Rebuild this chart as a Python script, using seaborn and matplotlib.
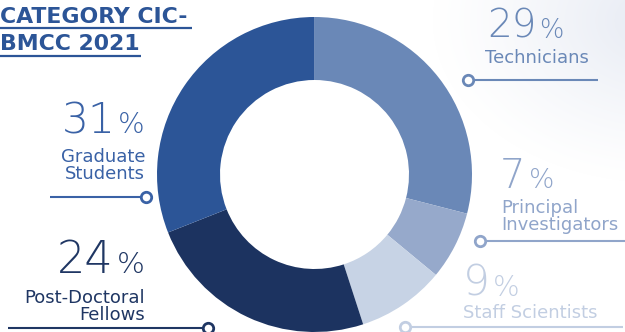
import numpy as np
import matplotlib
matplotlib.use("Agg")
import matplotlib.pyplot as plt
import seaborn as sns

# Staff composition shares (percent), clockwise from 12 o'clock
categories = ["Technicians", "Principal Investigators", "Staff Scientists",
              "Post-Doctoral Fellows", "Graduate Students"]
shares = [29, 7, 9, 24, 31]
label_lines = ["Technicians", "Principal\nInvestigators", "Staff Scientists",
               "Post-Doctoral\nFellows", "Graduate\nStudents"]
colors = ["#6a88b7", "#96a9cb", "#c7d3e5", "#1c3360", "#2c5597"]
text_colors = ["#6a88b7", "#90a5ca", "#c2cee2", "#1f3663", "#3a62a6"]
title_lines = ["CATEGORY CIC-", "BMCC 2021"]

sns.set_theme(style="white")
plt.rcParams["font.family"] = ["DejaVu Sans"]

W, H = 625, 332
fig = plt.figure(figsize=(W / 100, H / 100), dpi=100)
fig.patch.set_facecolor("white")

# Full-figure overlay in pixel coordinates for labels and leader lines
ov = fig.add_axes([0, 0, 1, 1], zorder=0)

# faint grey wash in the top-right corner
yy, xx = np.mgrid[0:H, 0:W]
d = np.hypot(xx - 660, (yy - 20) * 1.4)
a = np.clip(1 - d / 230, 0, 1) ** 1.2
wash = np.zeros((H, W, 4))
wash[..., 0] = 0.905
wash[..., 1] = 0.92
wash[..., 2] = 0.955
wash[..., 3] = a
ov.imshow(wash, extent=(0, W, H, 0), zorder=0, aspect="auto")
ov.set_xlim(0, W)
ov.set_ylim(H, 0)
ov.axis("off")

# Donut
cx, cy, r = 314.5, 174.5, 157.5
dax = fig.add_axes([(cx - r) / W, 1 - (cy + r) / H, 2 * r / W, 2 * r / H], zorder=1)
dax.pie(shares, colors=colors, startangle=90, counterclock=False, radius=1,
        wedgeprops=dict(width=0.4, edgecolor="none", linewidth=0))
dax.set_xlim(-1, 1)
dax.set_ylim(-1, 1)
dax.set_aspect("equal")
dax.axis("off")
dax.patch.set_alpha(0)

# Title with underlines
title_color = "#2c5597"
ov.text(0, 23, title_lines[0], fontsize=15.8, fontweight="bold", color=title_color,
        ha="left", va="baseline", zorder=3)
ov.plot([0, 192], [28, 28], color=title_color, lw=1.6, solid_capstyle="butt", zorder=3)
ov.text(0, 50.5, title_lines[1], fontsize=15.8, fontweight="bold", color=title_color,
        ha="left", va="baseline", zorder=3)
ov.plot([0, 141], [56, 56], color=title_color, lw=1.6, solid_capstyle="butt", zorder=3)

renderer = fig.canvas.get_renderer()

# Label layout per category:
# (anchor x, number baseline, number size, side, text x, last-line baseline, leader y, line x0, line x1, dot x)
layout = [
    (487, 38, 28, "left", 485, 63, 80, 468, 598, 468),
    (500, 187.5, 29, "left", 501, 230, 241, 480, 625, 480),
    (463, 295.5, 30.5, "left", 463, 318, 327, 405, 623, 405),
    (145, 273, 32, "right", 145, 320, 328, 8, 208, 208),
    (145, 133, 30.5, "right", 145, 179, 197, 50, 146, 146),
]
gap = 3

for share, lab, col, lay in zip(shares, label_lines, text_colors, layout):
    ax0, nb, ns, side, tx, tb, ly, lx0, lx1, dx = lay
    ps = ns * 0.66
    if side == "left":
        num = ov.text(ax0, nb, f"{share}", fontsize=ns, fontweight=200, color=col,
                      ha="left", va="baseline", zorder=3)
        wn = num.get_window_extent(renderer).width
        ov.text(ax0 + wn + gap, nb, "%", fontsize=ps, fontweight=200, color=col,
                ha="left", va="baseline", zorder=3)
    else:
        pct = ov.text(ax0, nb, "%", fontsize=ps, fontweight=200, color=col,
                      ha="right", va="baseline", zorder=3)
        wp = pct.get_window_extent(renderer).width
        ov.text(ax0 - wp - gap, nb, f"{share}", fontsize=ns, fontweight=200, color=col,
                ha="right", va="baseline", zorder=3)
    ov.text(tx, tb, lab, fontsize=13, color=col, ha=side, va="baseline",
            multialignment=side, linespacing=0.9, zorder=3)
    ov.plot([lx0, lx1], [ly, ly], color=col, lw=1.5, solid_capstyle="butt", zorder=3)
    ov.plot([dx], [ly], "o", ms=7.5, mfc="white", mec=col, mew=2.0, zorder=4)

fig.savefig("out.png", dpi=100, facecolor="white")
